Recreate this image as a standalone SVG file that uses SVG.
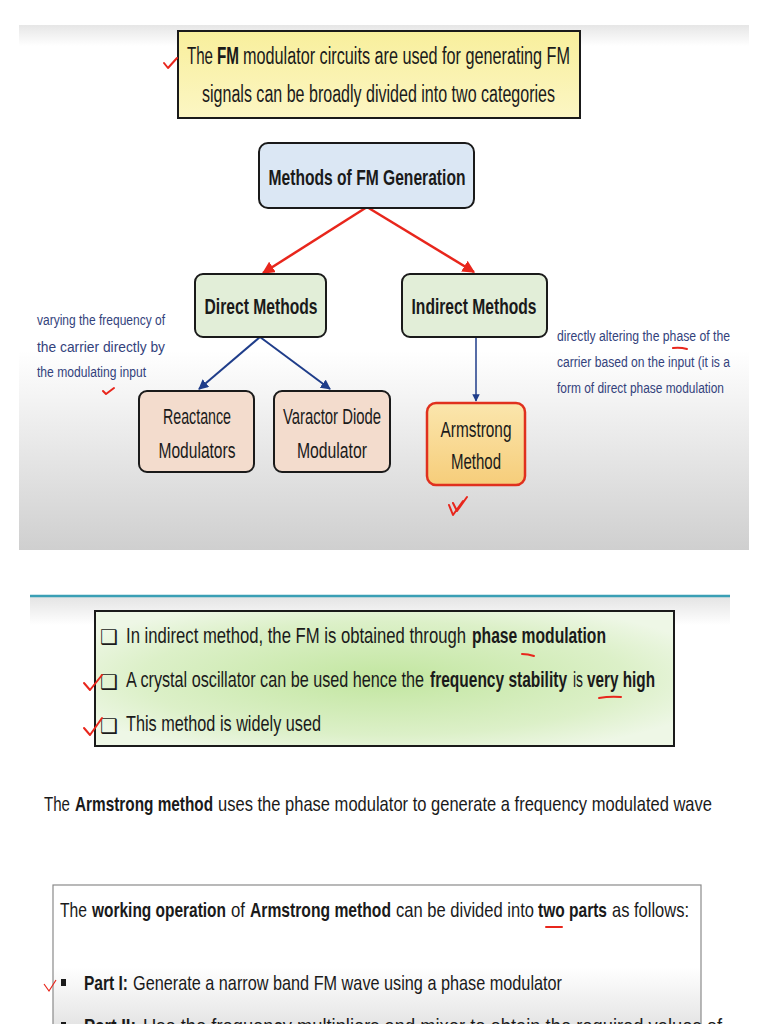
<svg xmlns="http://www.w3.org/2000/svg" width="768" height="1024" viewBox="0 0 768 1024">
<defs>
<linearGradient id="panelBg" x1="0" y1="0" x2="0" y2="1">
<stop offset="0" stop-color="#e6e6e6"/>
<stop offset="0.04" stop-color="#ffffff"/>
<stop offset="0.62" stop-color="#ffffff"/>
<stop offset="1" stop-color="#cfcfcf"/>
</linearGradient>
<linearGradient id="yellowBg" x1="0" y1="0" x2="0" y2="1">
<stop offset="0" stop-color="#f8ef9c"/>
<stop offset="1" stop-color="#fcf6c4"/>
</linearGradient>
<linearGradient id="armBg" x1="0" y1="0" x2="0" y2="1">
<stop offset="0" stop-color="#fbe6ad"/>
<stop offset="1" stop-color="#f6cd7a"/>
</linearGradient>
<radialGradient id="greenBg" cx="0.5" cy="0.5" r="0.6">
<stop offset="0" stop-color="#c2e6a0"/>
<stop offset="0.7" stop-color="#dcf0c8"/>
<stop offset="1" stop-color="#eef7e6"/>
</radialGradient>
<linearGradient id="bandBg" x1="0" y1="0" x2="0" y2="1">
<stop offset="0" stop-color="#e4e4e4"/>
<stop offset="1" stop-color="#ffffff"/>
</linearGradient>
<linearGradient id="bottomBg" x1="0" y1="0" x2="0" y2="1">
<stop offset="0" stop-color="#ffffff"/>
<stop offset="0.55" stop-color="#ffffff"/>
<stop offset="1" stop-color="#e0e0e0"/>
</linearGradient>
<marker id="arrRed" viewBox="0 0 10 10" refX="9" refY="5" markerWidth="5" markerHeight="5" orient="auto-start-reverse">
<path d="M0,0 L10,5 L0,10 z" fill="#e8261c"/>
</marker>
<marker id="arrBlue" viewBox="0 0 10 10" refX="9" refY="5" markerWidth="5" markerHeight="5" orient="auto-start-reverse">
<path d="M0,0 L10,5 L0,10 z" fill="#1f3d8a"/>
</marker>
</defs>
<style>
text{font-family:"Liberation Sans",Arial,sans-serif;fill:#1a1a1a}
.b{font-weight:bold}
.node{stroke:#1a1a1a;stroke-width:2}
.nt{font-size:22px;text-anchor:middle}
.note{font-size:14px;fill:#33427c}
.red{stroke:#e8261c;stroke-width:2;fill:none;stroke-linecap:round;stroke-linejoin:round}
.body{font-size:22px}
.t20{font-size:21px}
.box{font-size:20px;font-family:"DejaVu Sans",sans-serif}
</style>
<rect width="768" height="1024" fill="#ffffff"/>
<rect x="19" y="25" width="730" height="525" fill="url(#panelBg)"/>

<g id="intro">
<rect x="178" y="31" width="402" height="87" fill="url(#yellowBg)" stroke="#1a1a1a" stroke-width="2"/>
<text x="187" y="64" font-size="23" textLength="26" lengthAdjust="spacingAndGlyphs">The</text>
<text class="b" x="217" y="64" font-size="23" textLength="22" lengthAdjust="spacingAndGlyphs">FM</text>
<text x="243" y="64" font-size="23" textLength="327" lengthAdjust="spacingAndGlyphs">modulator circuits are used for generating FM</text>
<text x="202" y="102" font-size="23" textLength="353" lengthAdjust="spacingAndGlyphs">signals can be broadly divided into two categories</text>
<path class="red" d="M164 63 L168 68 L177 58"/>
</g>

<g id="connectors">
<line x1="367" y1="207" x2="263" y2="273" stroke="#e8261c" stroke-width="2.5" marker-end="url(#arrRed)"/>
<line x1="367" y1="207" x2="474" y2="272" stroke="#e8261c" stroke-width="2.5" marker-end="url(#arrRed)"/>
<line x1="260" y1="337" x2="199" y2="389" stroke="#1f3d8a" stroke-width="2" marker-end="url(#arrBlue)"/>
<line x1="260" y1="337" x2="330" y2="389" stroke="#1f3d8a" stroke-width="2" marker-end="url(#arrBlue)"/>
<line x1="476" y1="337" x2="476" y2="401" stroke="#1f3d8a" stroke-width="1.5" marker-end="url(#arrBlue)"/>
</g>

<g id="methods">
<rect class="node" x="259" y="143" width="215" height="65" rx="9" fill="#dbe7f4"/>
<text class="nt b" x="367" y="185" font-size="25" textLength="197" lengthAdjust="spacingAndGlyphs">Methods of FM Generation</text>
</g>
<g id="direct">
<rect class="node" x="195" y="274" width="131" height="63" rx="8" fill="#e2eed8"/>
<text class="nt b" x="261" y="314" textLength="113" lengthAdjust="spacingAndGlyphs">Direct Methods</text>
</g>
<g id="indirect">
<rect class="node" x="402" y="274" width="145" height="63" rx="8" fill="#e2eed8"/>
<text class="nt b" x="474" y="314" textLength="125" lengthAdjust="spacingAndGlyphs">Indirect Methods</text>
</g>
<g id="reactance">
<rect class="node" x="139" y="391" width="115" height="81" rx="8" fill="#f3dccd"/>
<text class="nt" x="197" y="424" textLength="68" lengthAdjust="spacingAndGlyphs">Reactance</text>
<text class="nt" x="197" y="458" textLength="77" lengthAdjust="spacingAndGlyphs">Modulators</text>
</g>
<g id="varactor">
<rect class="node" x="274" y="391" width="116" height="81" rx="8" fill="#f3dccd"/>
<text class="nt" x="332" y="424" textLength="98" lengthAdjust="spacingAndGlyphs">Varactor Diode</text>
<text class="nt" x="332" y="458" textLength="70" lengthAdjust="spacingAndGlyphs">Modulator</text>
</g>
<g id="armstrong">
<rect x="427" y="403" width="98" height="82" rx="9" fill="url(#armBg)" stroke="#e0301e" stroke-width="2.5"/>
<text class="nt" x="476" y="437" font-size="21" textLength="71" lengthAdjust="spacingAndGlyphs">Armstrong</text>
<text class="nt" x="476" y="469" font-size="21" textLength="50" lengthAdjust="spacingAndGlyphs">Method</text>
<path class="red" d="M449 505 L453 515 L463 501 M453 503 L457 511 L467 497"/>
</g>

<g id="note-direct">
<text class="note" x="37" y="325" textLength="128" lengthAdjust="spacingAndGlyphs">varying the frequency of</text>
<text class="note" x="37" y="352" textLength="128" lengthAdjust="spacingAndGlyphs">the carrier directly by</text>
<text class="note" x="37" y="377" textLength="109" lengthAdjust="spacingAndGlyphs">the modulating input</text>
<path class="red" d="M103 391 L106 394 L114 388"/>
</g>
<g id="note-indirect">
<text class="note" x="557" y="341" textLength="173" lengthAdjust="spacingAndGlyphs">directly altering the phase of the</text>
<text class="note" x="557" y="367" textLength="173" lengthAdjust="spacingAndGlyphs">carrier based on the input (it is a</text>
<text class="note" x="557" y="393" textLength="167" lengthAdjust="spacingAndGlyphs">form of direct phase modulation</text>
<path class="red" d="M673 348 Q680 347 687 349"/>
</g>

<rect x="30" y="597" width="700" height="28" fill="url(#bandBg)"/>
<line x1="30" y1="596" x2="730" y2="596" stroke="#3a9fb5" stroke-width="2.5"/>

<g id="indirect-points">
<rect x="95" y="611" width="579" height="135" fill="url(#greenBg)" stroke="#1a1a1a" stroke-width="2"/>
<text class="box" x="100" y="644">❑</text>
<text class="box" x="100" y="689">❑</text>
<text class="box" x="100" y="733">❑</text>
<text class="body" x="126" y="643" textLength="340" lengthAdjust="spacingAndGlyphs">In indirect method, the FM is obtained through</text>
<text class="body b" x="472" y="643" textLength="134" lengthAdjust="spacingAndGlyphs">phase modulation</text>
<text class="body" x="126" y="687" textLength="298" lengthAdjust="spacingAndGlyphs">A crystal oscillator can be used hence the</text>
<text class="body b" x="430" y="687" textLength="137" lengthAdjust="spacingAndGlyphs">frequency stability</text>
<text class="body" x="573" y="687" textLength="10" lengthAdjust="spacingAndGlyphs">is</text>
<text class="body b" x="587" y="687" textLength="68" lengthAdjust="spacingAndGlyphs">very high</text>
<text class="body" x="126" y="731" textLength="195" lengthAdjust="spacingAndGlyphs">This method is widely used</text>
<path class="red" d="M522 654 Q528 654 534 656"/>
<path class="red" d="M599 698 Q610 696 621 697"/>
<path class="red" d="M84 683 L90 690 L102 675"/>
<path class="red" d="M84 728 L90 735 L102 718"/>
</g>

<g id="armstrong-sentence">
<text class="t20" x="44" y="811" textLength="26" lengthAdjust="spacingAndGlyphs">The</text>
<text class="t20 b" x="75" y="811" textLength="138" lengthAdjust="spacingAndGlyphs">Armstrong method</text>
<text class="t20" x="218" y="811" textLength="494" lengthAdjust="spacingAndGlyphs">uses the phase modulator to generate a frequency modulated wave</text>
</g>

<g id="working-operation">
<rect x="53" y="885" width="648" height="150" fill="url(#bottomBg)" stroke="#8a8a8a" stroke-width="1.2"/>
<text class="t20" x="60" y="917" textLength="27" lengthAdjust="spacingAndGlyphs">The</text>
<text class="t20 b" x="92" y="917" textLength="134" lengthAdjust="spacingAndGlyphs">working operation</text>
<text class="t20" x="231" y="917" textLength="14" lengthAdjust="spacingAndGlyphs">of</text>
<text class="t20 b" x="250" y="917" textLength="141" lengthAdjust="spacingAndGlyphs">Armstrong method</text>
<text class="t20" x="396" y="917" textLength="138" lengthAdjust="spacingAndGlyphs">can be divided into</text>
<text class="t20 b" x="538" y="917" textLength="69" lengthAdjust="spacingAndGlyphs">two parts</text>
<text class="t20" x="612" y="917" textLength="77" lengthAdjust="spacingAndGlyphs">as follows:</text>
<path class="red" d="M546 927 L562 927"/>
<rect x="61" y="979" width="5" height="7" fill="#1a1a1a"/>
<text class="t20 b" x="84" y="990" textLength="44" lengthAdjust="spacingAndGlyphs">Part I:</text>
<text class="t20" x="133" y="990" textLength="429" lengthAdjust="spacingAndGlyphs">Generate a narrow band FM wave using a phase modulator</text>
<path d="M44 984 L49 991 L56 980" stroke="#e8261c" stroke-width="1.2" fill="none"/>
<rect x="61" y="1022" width="5" height="7" fill="#1a1a1a"/>
<text class="t20 b" x="84" y="1033" textLength="52" lengthAdjust="spacingAndGlyphs">Part II:</text>
<text class="t20" x="143" y="1033" textLength="579" lengthAdjust="spacingAndGlyphs">Use the frequency multipliers and mixer to obtain the required values of</text>
</g>
</svg>
